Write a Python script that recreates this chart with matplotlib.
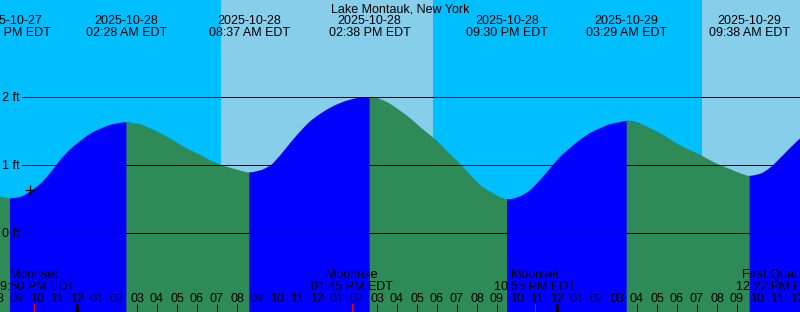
import matplotlib
matplotlib.use("Agg")
import matplotlib.pyplot as plt
from matplotlib.path import Path
from matplotlib.patches import PathPatch

# ---------------- data (hours since 2025-10-28 00:00 EDT, heights in ft) ----------------
title = "Lake Montauk, New York"

tide_hours = [-3.85, -3.35, -2.85, -2.35, -1.85, -1.35, -0.85, -0.35, 0.15, 0.65,
              1.15, 1.65, 2.15, 2.467, 2.65, 3.15, 3.65, 4.15, 4.65, 5.15,
              5.65, 6.15, 6.65, 7.15, 7.65, 8.15, 8.617, 9.15, 9.65, 10.15,
              10.65, 11.15, 11.65, 12.15, 12.65, 13.15, 13.65, 14.15, 14.633, 15.15,
              15.65, 16.15, 16.65, 17.15, 17.65, 18.15, 18.65, 19.15, 19.65, 20.15,
              20.65, 21.15, 21.5, 21.65, 22.15, 22.65, 23.15, 23.65, 24.15, 24.65,
              25.15, 25.65, 26.15, 26.65, 27.15, 27.483, 28.15, 28.65, 29.15, 29.65,
              30.15, 30.65, 31.15, 31.65, 32.15, 32.65, 33.15, 33.633, 34.15, 34.65,
              35.15, 35.65, 36.15]
tide_feet = [0.54, 0.51, 0.53, 0.61, 0.72, 0.88, 1.07, 1.23, 1.35, 1.46,
             1.53, 1.59, 1.62, 1.63, 1.62, 1.60, 1.54, 1.47, 1.39, 1.30,
             1.22, 1.15, 1.07, 1.01, 0.96, 0.92, 0.89, 0.92, 0.99, 1.14,
             1.32, 1.49, 1.64, 1.75, 1.84, 1.91, 1.96, 1.99, 2.00, 1.97,
             1.90, 1.80, 1.69, 1.56, 1.44, 1.31, 1.16, 1.02, 0.86, 0.71,
             0.61, 0.53, 0.50, 0.50, 0.54, 0.63, 0.78, 0.95, 1.12, 1.25,
             1.37, 1.47, 1.54, 1.60, 1.63, 1.65, 1.61, 1.54, 1.47, 1.38,
             1.29, 1.22, 1.15, 1.07, 1.00, 0.94, 0.88, 0.84, 0.87, 0.96,
             1.10, 1.25, 1.39]

extreme_hours = [-3.35, 2.467, 8.617, 14.633, 21.5, 27.483, 33.633]
extreme_dates = ["2025-10-27", "2025-10-28", "2025-10-28", "2025-10-28",
                 "2025-10-28", "2025-10-29", "2025-10-29"]
extreme_times = ["08:39 PM EDT", "02:28 AM EDT", "08:37 AM EDT", "02:38 PM EDT",
                 "09:30 PM EDT", "03:29 AM EDT", "09:38 AM EDT"]

daylight_start = [7.2, 31.25]
daylight_end = [17.8, 36.15]

moon_hours = [-2.167, 13.75, 22.917, 35.0]
moon_names = ["Moonset", "Moonrise", "Moonset", "First Quarter"]
moon_times = ["09:50 PM EDT", "01:45 PM EDT", "10:55 PM EDT", "12:22 PM EDT"]

hour_ticks = list(range(-4, 37))
hour_labels = ["08", "09", "10", "11", "12", "01", "02", "03", "04", "05", "06",
               "07", "08", "09", "10", "11", "12", "01", "02", "03", "04", "05",
               "06", "07", "08", "09", "10", "11", "12", "01", "02", "03", "04",
               "05", "06", "07", "08", "09", "10", "11", "12"]
midnight_hours = [0, 24]

level_feet = [2, 1, 0]
level_labels = ["2 ft", "1 ft", "0 ft"]

# ---------------- styling / layout ----------------
NIGHT = "#00BFFF"
DAY = "#87CEEB"
RISING = "#0000FF"
FALLING = "#2E8B57"
W, H = 800, 312
PX_PER_HOUR = 20.0
X_MIDNIGHT = 77.0
Y_ZERO = 233.0
PX_PER_FT = 68.0
PT = 72.0 / 100.0  # points per pixel


def hr(xpx):
    return (xpx - X_MIDNIGHT) / PX_PER_HOUR


def ft(ypx):
    return (Y_ZERO - ypx) / PX_PER_FT


def pchip_slopes(x, y):
    """Monotone (Fritsch-Carlson) tangents, used only to draw smooth Bezier curves."""
    n = len(x)
    h = [x[i + 1] - x[i] for i in range(n - 1)]
    d = [(y[i + 1] - y[i]) / h[i] for i in range(n - 1)]
    m = [0.0] * n
    for i in range(1, n - 1):
        if d[i - 1] * d[i] <= 0:
            m[i] = 0.0
        else:
            w1 = 2 * h[i] + h[i - 1]
            w2 = h[i] + 2 * h[i - 1]
            m[i] = (w1 + w2) / (w1 / d[i - 1] + w2 / d[i])
    m[0] = d[0]
    m[-1] = d[-1]
    return m


slopes = pchip_slopes(tide_hours, tide_feet)


def fill_path(i0, i1, base):
    verts = [(tide_hours[i0], base), (tide_hours[i0], tide_feet[i0])]
    codes = [Path.MOVETO, Path.LINETO]
    for i in range(i0, i1):
        dx = tide_hours[i + 1] - tide_hours[i]
        verts += [(tide_hours[i] + dx / 3, tide_feet[i] + slopes[i] * dx / 3),
                  (tide_hours[i + 1] - dx / 3, tide_feet[i + 1] - slopes[i + 1] * dx / 3),
                  (tide_hours[i + 1], tide_feet[i + 1])]
        codes += [Path.CURVE4] * 3
    verts += [(tide_hours[i1], base), (tide_hours[i0], base)]
    codes += [Path.LINETO, Path.CLOSEPOLY]
    return Path(verts, codes)


plt.rcParams["font.family"] = ["Liberation Sans", "DejaVu Sans"]
FS = 9

fig = plt.figure(figsize=(W / 100, H / 100), dpi=100)
ax = fig.add_axes([0, 0, 1, 1])
xmin, xmax = hr(0), hr(W)
ymin, ymax = ft(H), ft(0)
ax.set_xlim(xmin, xmax)
ax.set_ylim(ymin, ymax)
ax.axis("off")
ax.add_patch(plt.Rectangle((xmin, ymin), xmax - xmin, ymax - ymin,
                           facecolor=NIGHT, edgecolor="none", zorder=0))
for s, e in zip(daylight_start, daylight_end):
    ax.axvspan(s, e, facecolor=DAY, edgecolor="none", antialiased=False, zorder=0.5)

# tide fill: alternate falling / rising between extremes
bounds = [tide_hours[0]] + extreme_hours + [tide_hours[-1]]
idx = [tide_hours.index(b) for b in bounds]
first_rising = tide_feet[1] > tide_feet[0]
for k in range(len(idx) - 1):
    i0, i1 = idx[k], min(idx[k + 1] + 1, len(tide_hours) - 1)
    rising = (k % 2 == 0) == first_rising
    ax.add_patch(PathPatch(fill_path(i0, i1, ymin - 0.1),
                           facecolor=RISING if rising else FALLING,
                           edgecolor="none", linewidth=0, zorder=1 + k * 0.01))

# level lines
for lv, lab in zip(level_feet, level_labels):
    ax.plot([hr(22), xmax], [lv, lv], color="black", lw=1 * PT, zorder=3)
    ax.text(hr(2), lv - 4.3 / PX_PER_FT, lab, fontsize=FS, ha="left",
            va="baseline", zorder=4)

# "+" mark
ax.plot([hr(30)], [ft(189.5)], marker="+", ms=10 * PT, mew=1.2 * PT,
        color="black", zorder=4)

# top labels
ax.text(0.5 * (xmin + xmax), ft(12), title, fontsize=FS, ha="center", va="baseline", zorder=4)
for t, d, tm in zip(extreme_hours, extreme_dates, extreme_times):
    ax.text(t, ft(24), d, fontsize=FS, ha="center", va="baseline", zorder=4)
    ax.text(t, ft(36), tm, fontsize=FS, ha="center", va="baseline", zorder=4)

# moon events
for t, n, tm in zip(moon_hours, moon_names, moon_times):
    ax.text(t, ft(278), n, fontsize=FS, ha="center", va="baseline", zorder=4)
    ax.text(t, ft(290), tm, fontsize=FS, ha="center", va="baseline", zorder=4)
    if n.startswith("Moon"):
        ax.plot([t, t], [ft(304), ymin], color="red", lw=1 * PT, zorder=5)

# hour ticks and labels
for t, lab in zip(hour_ticks, hour_labels):
    lw = 3 if t in midnight_hours else 1
    ax.plot([t, t], [ft(304), ymin], color="black", lw=lw * PT, zorder=4,
            solid_capstyle="butt")
    ax.text(t, ft(302), lab, fontsize=FS, ha="center", va="baseline", zorder=4)

fig.savefig("out.png", dpi=100)
